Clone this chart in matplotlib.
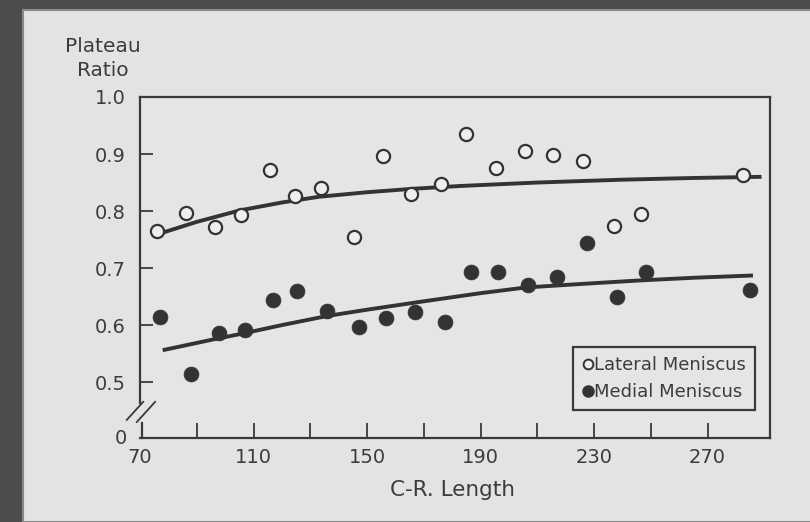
import matplotlib
matplotlib.use("Agg")
import matplotlib.pyplot as plt
from matplotlib.patches import Rectangle
from matplotlib.lines import Line2D

# ---- data ----
lat_x = [76, 86.2, 96.5, 105.6, 115.9, 124.7, 133.9, 145.5, 155.7, 165.6, 175.9,
         185, 195.3, 205.5, 215.7, 226, 237, 246.4, 282.4]
lat_y = [0.765, 0.797, 0.772, 0.793, 0.872, 0.826, 0.840, 0.754, 0.896, 0.830, 0.847,
         0.935, 0.875, 0.905, 0.898, 0.888, 0.774, 0.795, 0.863]
med_x = [77, 88, 97.9, 107, 116.9, 125.4, 136, 147, 156.8, 167, 177.3,
         186.8, 196.3, 206.6, 216.9, 227.4, 238, 248.2, 284.9]
med_y = [0.614, 0.514, 0.586, 0.591, 0.644, 0.660, 0.625, 0.596, 0.612, 0.623, 0.605,
         0.693, 0.693, 0.670, 0.684, 0.744, 0.649, 0.693, 0.661]
lat_fit_x = [76, 90, 105, 120, 133, 150, 166, 183, 210, 240, 265, 289]
lat_fit_y = [0.759, 0.781, 0.801, 0.815, 0.825, 0.833, 0.839, 0.844, 0.850, 0.855, 0.858, 0.860]
med_fit_x = [78, 95, 107, 120, 136, 150, 169, 190, 206, 225, 245, 265, 286]
med_fit_y = [0.556, 0.574, 0.586, 0.600, 0.616, 0.627, 0.641, 0.656, 0.666, 0.672, 0.678, 0.683, 0.687]
x_ticks = [90, 110, 130, 150, 170, 190, 210, 230, 250, 270]
x_labels = [70, 110, 150, 190, 230, 270]
y_ticks = [0.5, 0.6, 0.7, 0.8, 0.9, 1.0]
y_labels = ["0.5", "0.6", "0.7", "0.8", "0.9", "1.0"]

ink = "#333333"
txt = "#3c3c3c"
plt.rcParams['font.family'] = ['DejaVu Sans']

fig = plt.figure(figsize=(8.1, 5.22), dpi=100)
fig.patch.set_facecolor("#4d4d4d")
# paper
paper = Rectangle((23/810, 0), 1, 1 - 10/522, transform=fig.transFigure,
                  facecolor="#e3e3e1", edgecolor="#8a8a8a", lw=1.5, zorder=-10)
fig.patches.append(paper)

ax = fig.add_axes([140/810, 1 - 438/522, 630/810, 341/522])
ax.set_zorder(1)
ax.set_facecolor("#e5e5e3")
ax.set_xlim(70, 292)
ax.set_ylim(0.402, 1.0)

for s in ax.spines.values():
    s.set_color("#3a3a3a")
    s.set_linewidth(1.6)
ax.spines['left'].set_visible(False)
# left spine drawn in two pieces around the axis break
ax.add_line(Line2D([0, 0], [0.103, 1.0], transform=ax.transAxes, color="#3a3a3a",
                   lw=1.6, clip_on=False, solid_capstyle='projecting'))
ax.add_line(Line2D([0.003, 0.003], [0.0, 0.045], transform=ax.transAxes, color="#3a3a3a",
                   lw=1.6, clip_on=False, solid_capstyle='projecting'))

ax.plot(lat_fit_x, lat_fit_y, color=ink, lw=2.8, zorder=2, solid_capstyle='butt')
ax.plot(med_fit_x, med_fit_y, color=ink, lw=2.8, zorder=2, solid_capstyle='butt')
ax.scatter(lat_x, lat_y, s=90, facecolors="#eeeeec", edgecolors=ink, linewidths=1.6, zorder=3)
ax.scatter(med_x, med_y, s=115, facecolors=ink, edgecolors=ink, linewidths=0.5, zorder=3)

ax.set_xticks(x_ticks)
ax.set_xticklabels([])
ax.tick_params(axis='x', direction='in', length=11, width=1.3, color="#3a3a3a")
ax.set_yticks(y_ticks)
ax.set_yticklabels(y_labels, fontsize=14, color=txt)
ax.tick_params(axis='y', direction='in', length=9, width=1.3, color="#3a3a3a", pad=10)

for v in x_labels:
    ax.text(v, -0.03, str(v), transform=ax.get_xaxis_transform(), ha='center', va='top',
            fontsize=14, color=txt)
ax.text(-0.02, 0.0, "0", transform=ax.transAxes, ha='right', va='center', fontsize=14, color=txt)

# axis break marks
ax.add_line(Line2D([-0.021, 0.005], [0.053, 0.106], transform=ax.transAxes,
                   color="#3a3a3a", lw=1.3, clip_on=False))
ax.add_line(Line2D([-0.005, 0.024], [0.047, 0.106], transform=ax.transAxes,
                   color="#3a3a3a", lw=1.3, clip_on=False))

fig.text(103/810, 1 - 46/522, "Plateau", ha='center', va='center', fontsize=14.5, color=txt)
fig.text(103/810, 1 - 71/522, "Ratio", ha='center', va='center', fontsize=14.5, color=txt)
fig.text(453/810, 1 - 490/522, "C-R. Length", ha='center', va='center', fontsize=15.5, color=txt)

handles = [Line2D([], [], ls='none', marker='o', ms=7, mfc="#eeeeec", mec=ink, mew=1.4),
           Line2D([], [], ls='none', marker='o', ms=8, mfc=ink, mec=ink)]
leg = ax.legend(handles, ["Lateral Meniscus", "Medial Meniscus"], loc='lower right',
                bbox_to_anchor=(0.976, 0.082), frameon=True, fancybox=False,
                edgecolor="#3a3a3a", facecolor="#e5e5e3", framealpha=1,
                handletextpad=0.05, handlelength=0.6, borderpad=0.5, labelspacing=0.5,
                fontsize=13, borderaxespad=0)
leg.get_frame().set_linewidth(1.6)
for t in leg.get_texts():
    t.set_color(txt)

fig.savefig("out.png", dpi=100, facecolor=fig.get_facecolor())
